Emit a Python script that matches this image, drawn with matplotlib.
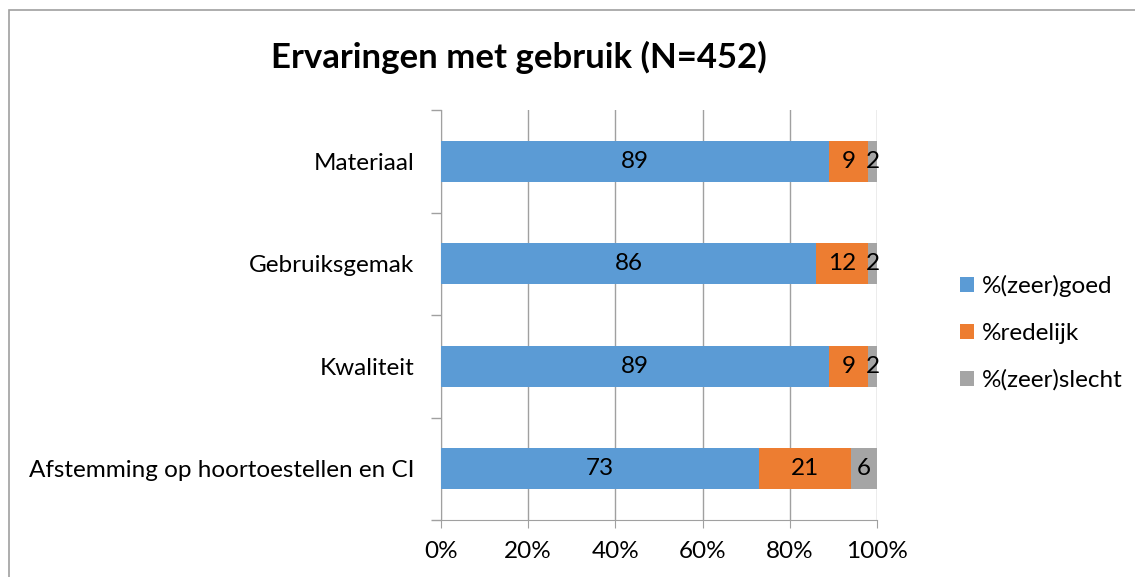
import matplotlib
matplotlib.use("Agg")
import matplotlib.pyplot as plt
from matplotlib.patches import Rectangle
import numpy as np

categories = ["Materiaal", "Gebruiksgemak", "Kwaliteit", "Afstemming op hoortoestellen en CI"]
goed = [89, 86, 89, 73]
redelijk = [9, 12, 9, 21]
slecht = [2, 2, 2, 6]
series_names = ["%(zeer)goed", "%redelijk", "%(zeer)slecht"]
colors = ["#5B9BD5", "#ED7D31", "#A5A5A5"]
xticklabels = ["0%", "20%", "40%", "60%", "80%", "100%"]

plt.rcParams['font.family'] = ['Lato', 'DejaVu Sans']
FS = 17.5

fig = plt.figure(figsize=(11.35, 5.77), dpi=100)
ax = fig.add_axes([441/1135, 1-520/577, (877-441)/1135, (520-110)/577])

y = np.arange(len(categories))[::-1]
data = [goed, redelijk, slecht]
left = np.zeros(len(categories))
bars = []
for vals, c, name in zip(data, colors, series_names):
    b = ax.barh(y, vals, left=left, height=0.4, color=c, label=name, zorder=3)
    bars.append(b)
    for yi, l, v in zip(y, left, vals):
        ax.text(l + v/2, yi, str(v), ha='center', va='center', fontsize=FS, color='black', zorder=4)
    left = left + np.array(vals)

ax.set_xlim(0, 100)
ax.set_ylim(-0.5, 3.5)
ax.set_xticks([0, 20, 40, 60, 80, 100])
ax.set_xticklabels(xticklabels, fontsize=FS)
ax.set_yticks(y)
ax.set_yticklabels(categories, fontsize=FS)
ax.set_yticks([-0.5, 0.5, 1.5, 2.5, 3.5], minor=True)
ax.tick_params(axis='y', which='major', length=0, pad=19)
ax.tick_params(axis='y', which='minor', length=7, color='#A0A0A0', width=1)
ax.tick_params(axis='x', which='major', length=6, color='#A0A0A0', pad=9, direction='out')
ax.grid(axis='x', color='#A0A0A0', linewidth=1, zorder=0)
for s in ['top', 'right']:
    ax.spines[s].set_visible(False)
ax.spines['left'].set_color('#A0A0A0')
ax.spines['bottom'].set_color('#A0A0A0')

fig.text(519/1135, 1-57/577, "Ervaringen met gebruik (N=452)", ha='center', va='center',
         fontsize=25, fontweight='bold')

leg = fig.legend(handles=[b for b in bars], labels=series_names, loc='center left',
                 bbox_to_anchor=(938/1135, 1-333/577), frameon=False, fontsize=FS,
                 handlelength=0.6, handleheight=0.6, handletextpad=0.3, labelspacing=1.05)

fig.patches.append(Rectangle((9/1135, -0.1), 1.2, 1-10/577+0.1, transform=fig.transFigure,
                             fill=False, edgecolor='#A0A0A0', linewidth=1.2))

fig.savefig("out.png", dpi=100)
